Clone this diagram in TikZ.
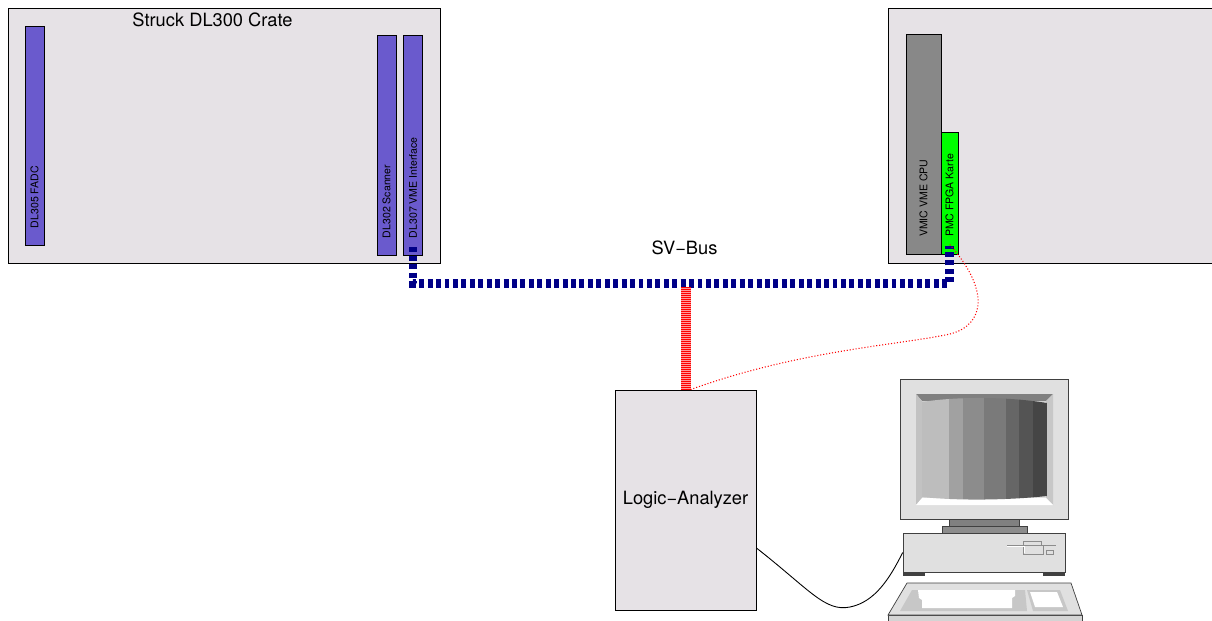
\documentclass[tikz,border=0pt]{standalone}
\usepackage{fontspec}
\setmainfont{TeX Gyre Heros}
\usepackage{tikz}
\usetikzlibrary{calc}
\usepackage{xcolor}
\definecolor{cratefill}{RGB}{230,226,230}
\definecolor{karte}{RGB}{106,90,205}
\definecolor{cpugrau}{RGB}{136,136,136}
\definecolor{fpga}{RGB}{0,255,0}
\definecolor{busblau}{RGB}{0,0,135}
\definecolor{pcrahmen}{RGB}{64,64,64}
\definecolor{pchell}{RGB}{224,224,224}

\begin{document}
\begin{tikzpicture}[x=0.02cm, y=-0.02cm,
    crate/.style = {draw=black, fill=cratefill, inner sep=0, line width=0.5pt},
    steckkarte/.style = {draw=black, fill=karte, inner sep=0, line width=0.5pt},
    kartenlabel/.style = {rotate=90, anchor=west, inner sep=0, font=\fontsize{6}{7}\selectfont},
    beschriftung/.style = {anchor=base, inner sep=0, font=\fontsize{10.4}{12}\selectfont},
    svbus/.style = {color=busblau, line width=5.1pt, dash pattern=on 2.8pt off 2pt},
    probegrund/.style = {color=red!40, line width=5.6pt},
    probe/.style = {color=red, line width=5.6pt, dash pattern=on 0.567pt off 0.567pt},
    signal/.style = {color=red, line width=0.6pt, dash pattern=on 0.6pt off 1.1pt},
    pcteil/.style = {draw=pcrahmen, line width=0.4pt}]
    \useasboundingbox (0,0) rectangle (1212,621);
    \clip (0,0) rectangle (1212,621);
    %
    % Struck crate
    \node[crate, minimum width=8.64cm, minimum height=5.1cm] (dl300) at (224,135.5) {};
    \node[beschriftung] (dl300-titel) at (212.5,26.5) {Struck DL300 Crate};
    \node[steckkarte, minimum width=0.38cm, minimum height=4.38cm] (fadc) at (34.5,135.5) {};
    \node[steckkarte, minimum width=0.38cm, minimum height=4.4cm] (scanner) at (386.5,145) {};
    \node[steckkarte, minimum width=0.37cm, minimum height=4.4cm] (vmeif) at (413,145) {};
    \node[kartenlabel] (fadc-txt) at ([yshift=0.34cm]fadc.south) {DL305 FADC};
    \node[kartenlabel] (scanner-txt) at ([yshift=0.34cm]scanner.south) {DL302 Scanner};
    \node[kartenlabel] (vmeif-txt) at ([yshift=0.34cm]vmeif.south) {DL307 VME Interface};
    %
    % VMIC crate
    \node[crate, minimum width=6.84cm, minimum height=5.1cm] (vmic) at (1059,135.5) {};
    \node[draw=black, fill=cpugrau, inner sep=0, minimum width=0.7cm, minimum height=4.4cm] (cpu) at (923.5,144) {};
    \node[draw=black, fill=fpga, inner sep=0, minimum width=0.34cm, minimum height=2.44cm] (pmc) at (949.5,193) {};
    \node[kartenlabel] (cpu-txt) at ([yshift=0.34cm]cpu.south) {VMIC VME CPU};
    \node[kartenlabel] (pmc-txt) at ([yshift=0.34cm]pmc.south) {PMC FPGA Karte};
    %
    % Logic analyzer
    \node[crate, minimum width=2.82cm, minimum height=4.4cm,
        font=\fontsize{10.4}{12}\selectfont] (analyzer) at (685.5,500) {Logic−Analyzer};
    %
    % PC
    \node[pcteil, fill=pchell, inner sep=0, minimum width=3.24cm, minimum height=0.78cm] (pc) at (984,552.5) {};
    \filldraw[pcteil, fill=pchell] (900,379) rectangle (1068,519);
    \fill[black!50] (916,394) -- (1053,394) -- (1046,401) -- (922,401) -- cycle;
    \fill[black!24] (916,394) -- (922,401) -- (922,499) -- (916,505) -- cycle;
    \fill[black!22] (1053,394) -- (1046,401) -- (1046,499) -- (1053,505) -- cycle;
    \fill[white] (916,505) -- (922,498) -- (1046,498) -- (1053,505) -- cycle;
    \begin{scope}
        \clip (922,402) .. controls (960,396) and (1010,397) .. (1047,403)
            -- (1047,496) .. controls (1010,500) and (960,501) .. (922,497) -- cycle;
        \foreach \xa/\xb/\g in {922/949/26, 949/963/37, 963/984/45, 984/1006/52,
            1006/1019/60, 1019/1033/67, 1033/1047/73}
            \fill[black!\g] (\xa,390) rectangle (\xb,505);
    \end{scope}
    \filldraw[pcteil, fill=black!50] (949,519) rectangle (1019,526);
    \filldraw[pcteil, fill=black!45] (942,526) rectangle (1027,533);
    \fill[pcrahmen] (903,572) rectangle (925,576);
    \fill[pcrahmen] (1043,572) rectangle (1065,576);
    % floppy slots
    \draw[black!45, line width=0.4pt] (1007,545) -- (1023,545) |- (1041,541) |- (1056,545);
    \draw[black!45, line width=0.4pt] (1023,545) rectangle (1043,554);
    \draw[black!45, line width=0.4pt] (1046,550) rectangle (1053,554);
    \draw[white, line width=0.4pt] (1007,546) -- (1024,546) -- (1024,553);
    % keyboard
    \filldraw[pcteil, fill=black!17] (888,615) -- (1082,615) -- (1082,625) -- (888,625) -- cycle;
    \filldraw[pcteil, fill=pchell] (907,583) -- (1071,583) -- (1082,615) -- (888,615) -- cycle;
    \fill[black!22] (912,590) -- (1025,590) -- (1027,611) -- (900,611) -- cycle;
    \fill[white] (918,590) -- (1015,590) -- (1015,596) -- (1012,598) -- (1012,608)
        -- (922,608) -- (922,600) -- (919,598) -- cycle;
    \fill[black!22] (1027,590) -- (1060,590) -- (1068,611) -- (1033,611) -- cycle;
    \fill[white] (1030,592) -- (1057,592) -- (1063,607) -- (1035,607) -- cycle;
    %
    % Busse und Leitungen
    \node[beschriftung] (svbus-txt) at (684.5,255) {SV−Bus};
    \coordinate (abgriff) at (686,287);
    \draw[svbus] ([yshift=0.16cm]vmeif.south) |- ([yshift=-0.58cm]pmc.south)
        -- ([yshift=0.16cm]pmc.south);
    \draw[probegrund] (abgriff) -- (abgriff |- analyzer.north);
    \draw[probe] (abgriff) -- (abgriff |- analyzer.north);
    \draw[signal] ([xshift=0.1cm]analyzer.north) .. controls (800,350) and (900,345) .. (950,334)
        .. controls (985,325) and (990,290) .. ([yshift=0.2cm]pmc.south);
    \draw[black, line width=0.5pt] ([yshift=-0.96cm]analyzer.east) .. controls (810,590) and (825,612) .. (850,607)
        .. controls (875,602) and (890,578) .. (pc.west);
\end{tikzpicture}
\end{document}
